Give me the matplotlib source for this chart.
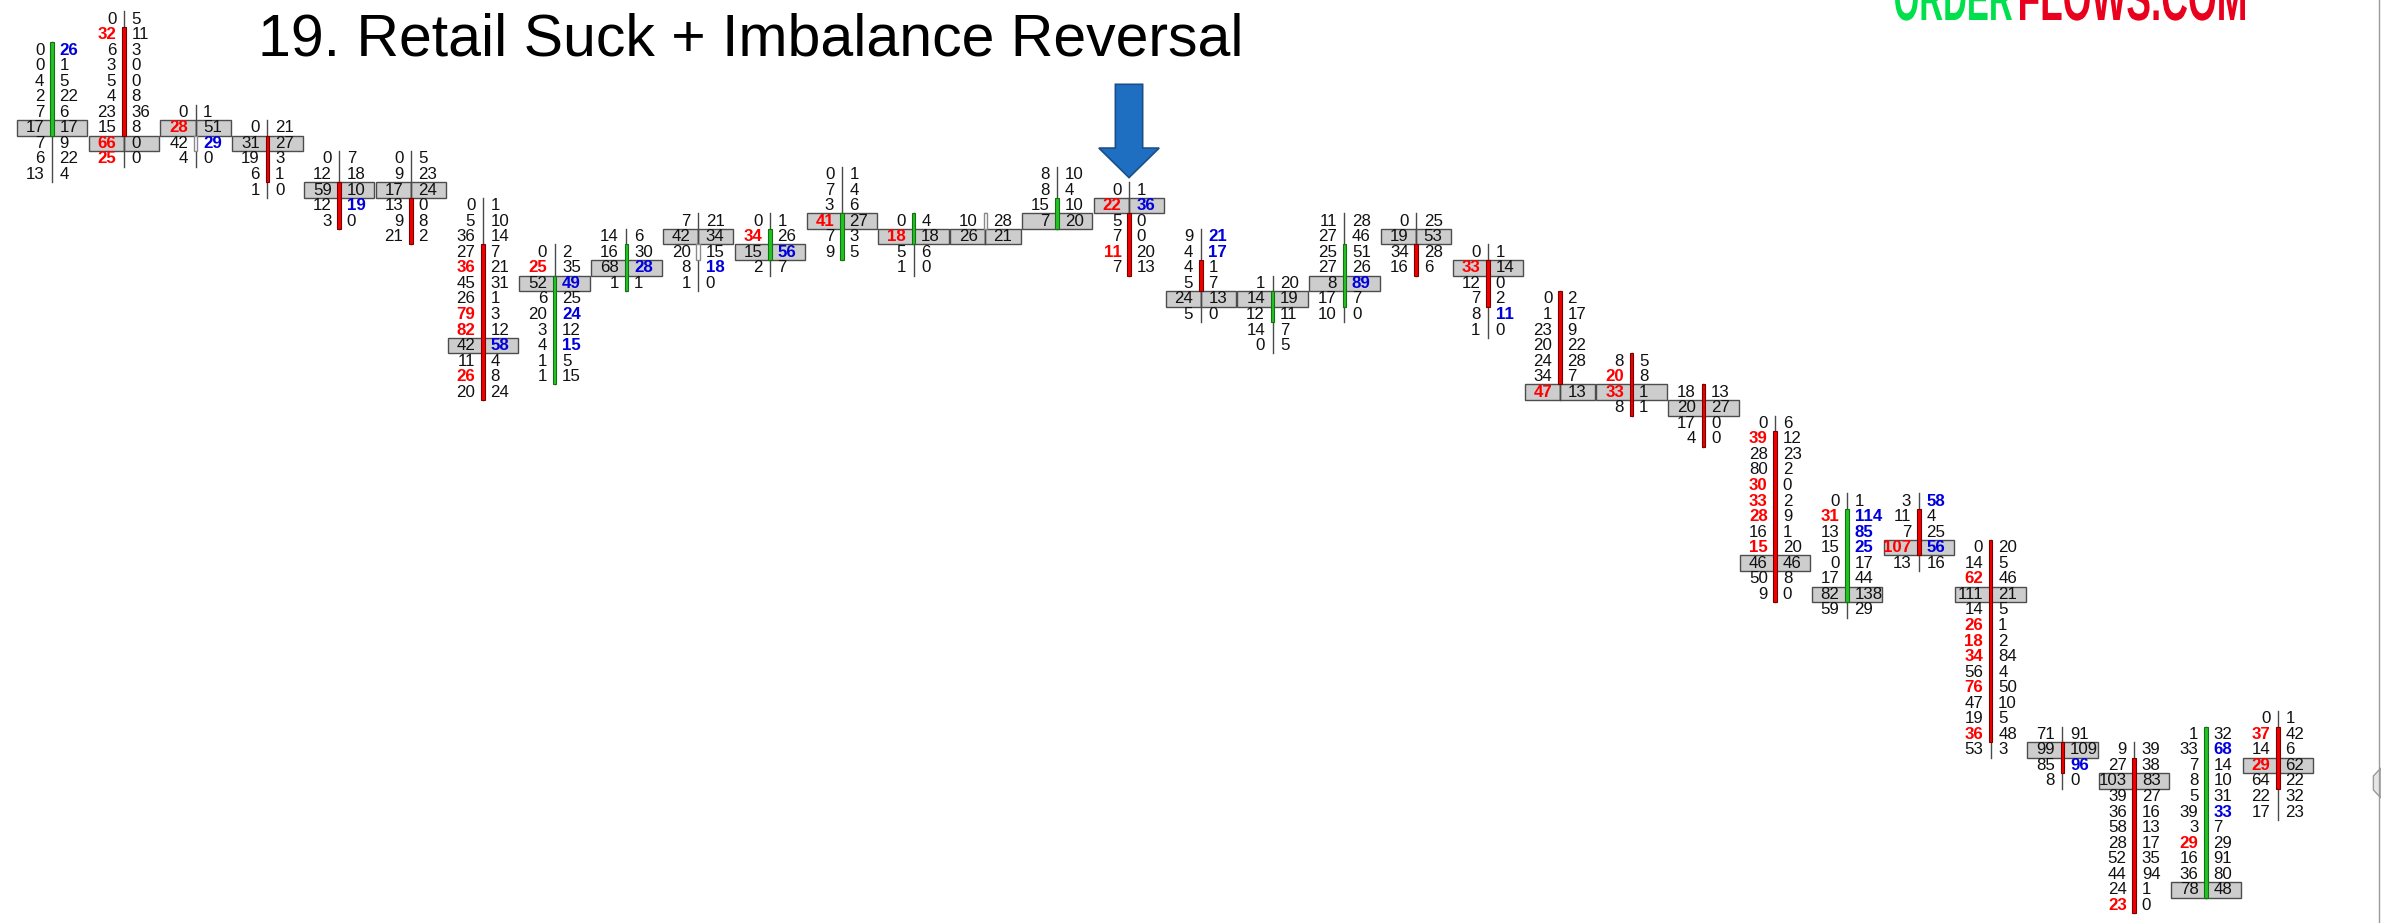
import matplotlib
matplotlib.use("Agg")
import matplotlib.pyplot as plt
from matplotlib.patches import Rectangle, FancyArrow, Polygon, PathPatch
from matplotlib.textpath import TextPath
from matplotlib.font_manager import FontProperties
from matplotlib.transforms import Affine2D

plt.rcParams['font.family'] = ['Liberation Sans', 'DejaVu Sans']

# footprint bars, price rows counted downward from the top of the chart
tops = [2, 0, 6, 7, 9, 9, 12, 15, 14, 13, 13, 10, 13, 13, 10, 11,
        14, 17, 13, 13, 15, 18, 22, 24, 26, 31, 31, 34, 46, 47, 46, 45]

bids = [
    [0, 0, 4, 2, 7, 17, 7, 6, 13],
    [0, 32, 6, 3, 5, 4, 23, 15, 66, 25],
    [0, 28, 42, 4],
    [0, 31, 19, 6, 1],
    [0, 12, 59, 12, 3],
    [0, 9, 17, 13, 9, 21],
    [0, 5, 36, 27, 36, 45, 26, 79, 82, 42, 11, 26, 20],
    [0, 25, 52, 6, 20, 3, 4, 1, 1],
    [14, 16, 68, 1],
    [7, 42, 20, 8, 1],
    [0, 34, 15, 2],
    [0, 7, 3, 41, 7, 9],
    [0, 18, 5, 1],
    [10, 26],
    [8, 8, 15, 7],
    [0, 22, 5, 7, 11, 7],
    [9, 4, 4, 5, 24, 5],
    [1, 14, 12, 14, 0],
    [11, 27, 25, 27, 8, 17, 10],
    [0, 19, 34, 16],
    [0, 33, 12, 7, 8, 1],
    [0, 1, 23, 20, 24, 34, 47],
    [8, 20, 33, 8],
    [18, 20, 17, 4],
    [0, 39, 28, 80, 30, 33, 28, 16, 15, 46, 50, 9],
    [0, 31, 13, 15, 0, 17, 82, 59],
    [3, 11, 7, 107, 13],
    [0, 14, 62, 111, 14, 26, 18, 34, 56, 76, 47, 19, 36, 53],
    [71, 99, 85, 8],
    [9, 27, 103, 39, 36, 58, 28, 52, 44, 24, 23],
    [1, 33, 7, 8, 5, 39, 3, 29, 16, 36, 78],
    [0, 37, 14, 29, 64, 22, 17],
]

asks = [
    [26, 1, 5, 22, 6, 17, 9, 22, 4],
    [5, 11, 3, 0, 0, 8, 36, 8, 0, 0],
    [1, 51, 29, 0],
    [21, 27, 3, 1, 0],
    [7, 18, 10, 19, 0],
    [5, 23, 24, 0, 8, 2],
    [1, 10, 14, 7, 21, 31, 1, 3, 12, 58, 4, 8, 24],
    [2, 35, 49, 25, 24, 12, 15, 5, 15],
    [6, 30, 28, 1],
    [21, 34, 15, 18, 0],
    [1, 26, 56, 7],
    [1, 4, 6, 27, 3, 5],
    [4, 18, 6, 0],
    [28, 21],
    [10, 4, 10, 20],
    [1, 36, 0, 0, 20, 13],
    [21, 17, 1, 7, 13, 0],
    [20, 19, 11, 7, 5],
    [28, 46, 51, 26, 89, 7, 0],
    [25, 53, 28, 6],
    [1, 14, 0, 2, 11, 0],
    [2, 17, 9, 22, 28, 7, 13],
    [5, 8, 1, 1],
    [13, 27, 0, 0],
    [6, 12, 23, 2, 0, 2, 9, 1, 20, 46, 8, 0],
    [1, 114, 85, 25, 17, 44, 138, 29],
    [58, 4, 25, 56, 16],
    [20, 5, 46, 21, 5, 1, 2, 84, 4, 50, 10, 5, 48, 3],
    [91, 109, 96, 0],
    [39, 38, 83, 27, 16, 13, 17, 35, 94, 1, 0],
    [32, 68, 14, 10, 31, 33, 7, 29, 91, 80, 48],
    [1, 42, 6, 62, 22, 32, 23],
]

poc_rows = [7, 8, 7, 8, 11, 11, 21, 17, 16, 14, 15, 13, 14, 14, 13, 12,
            18, 18, 17, 14, 16, 24, 24, 25, 35, 37, 34, 37, 47, 49, 56, 48]

body_rows = [(2, 7), (1, 7), (8, 8), (8, 10), (11, 13), (12, 14), (15, 24), (17, 23),
             (15, 17), (15, 15), (14, 15), (13, 15), (13, 14), (13, 13), (12, 13), (13, 16),
             (16, 17), (18, 19), (15, 18), (15, 16), (16, 18), (18, 23), (22, 25), (24, 27),
             (27, 37), (32, 37), (32, 34), (34, 46), (47, 48), (48, 57), (46, 56), (46, 49)]

bar_dir = ['up', 'down', 'doji', 'down', 'down', 'down', 'down', 'up',
           'up', 'doji', 'up', 'up', 'up', 'doji', 'up', 'down',
           'down', 'up', 'up', 'down', 'down', 'down', 'down', 'down',
           'down', 'up', 'down', 'down', 'down', 'down', 'up', 'down']

# imbalance rows (bid side red, ask side blue)
bid_imb = {1: [1, 8, 9], 2: [7], 6: [16, 19, 20, 23], 7: [16], 10: [14], 11: [13],
           12: [14], 15: [12, 15], 20: [16], 21: [24], 22: [23, 24],
           24: [27, 30, 31, 32, 34], 25: [32], 26: [34],
           27: [36, 39, 40, 41, 43, 46], 29: [57], 30: [53], 31: [46, 48]}
ask_imb = {0: [2], 2: [8], 4: [12], 6: [21], 7: [17, 19, 21], 8: [16], 9: [16],
           10: [15], 15: [12], 16: [14, 15], 18: [17], 20: [19],
           25: [32, 33, 34], 26: [31, 34], 28: [48], 30: [47, 51]}

title = "19. Retail Suck + Imbalance Reversal"
signal_bar = 15

W, H = 2381, 923
fig = plt.figure(figsize=(W / 100, H / 100), dpi=100)
ax = fig.add_axes([0, 0, 1, 1])
ax.set_xlim(-0.7242, 32.437)
ax.set_ylim(58.135, -1.222)
ax.axis('off')

half = 0.49
gap = 0.105
bw = 0.05

for c in range(len(tops)):
    first = tops[c]
    last = tops[c] + len(bids[c]) - 1
    ax.plot([c, c], [first - 0.5, last + 0.5], color='#4a4a4a', lw=1.0, zorder=2)

    p = poc_rows[c]
    for x0 in (c - half, c):
        ax.add_patch(Rectangle((x0, p - 0.5), half, 1, facecolor='#cdcdcd',
                               edgecolor='#4d4d4d', lw=1.0, zorder=1))

    b0, b1 = body_rows[c]
    if bar_dir[c] == 'doji':
        ax.add_patch(Rectangle((c - bw / 2, b0 - 0.5), bw, b1 - b0 + 1, facecolor='white',
                               edgecolor='#8a8a8a', lw=1.0, zorder=3))
    else:
        fc, ec = ('#22c422', '#147014') if bar_dir[c] == 'up' else ('#f20000', '#7a0000')
        ax.add_patch(Rectangle((c - bw / 2, b0 - 0.5), bw, b1 - b0 + 1, facecolor=fc,
                               edgecolor=ec, lw=0.8, zorder=3))

    for i in range(len(bids[c])):
        r = first + i
        red = r in bid_imb.get(c, [])
        blue = r in ask_imb.get(c, [])
        ax.text(c - gap, r, str(bids[c][i]), ha='right', va='center', fontsize=12.2,
                color='#ff0000' if red else '#111111',
                fontweight='bold' if red else 'normal', zorder=4)
        ax.text(c + gap, r, str(asks[c][i]), ha='left', va='center', fontsize=12.2,
                color='#0000dd' if blue else '#111111',
                fontweight='bold' if blue else 'normal', zorder=4)

# signal arrow above the reversal bar
ax.add_patch(FancyArrow(signal_bar, 4.2, 0, 6.0, width=0.38, head_width=0.84,
                        head_length=1.9, length_includes_head=True,
                        facecolor='#1e6fc2', edgecolor='#1b4e87', lw=1.2, zorder=5))

# right border + handle
ax.axvline(32.405, color='#9a9a9a', lw=1.0)
ax.add_patch(Polygon([(1.0, 1 - 768 / H), (0.9968, 1 - 776 / H), (0.9968, 1 - 790 / H),
                      (1.0, 1 - 798 / H)], closed=True, transform=ax.transAxes,
                     facecolor='#e6e6e6', edgecolor='#9a9a9a', lw=1.0))

fig.text(258 / W, 1 - 55 / H, title, fontsize=42.5, va='baseline', ha='left', color='#000000')

# logo, condensed bold letters cut by the top edge
fp = FontProperties(family='Liberation Sans', weight='bold')
cap_h = 46.0
for word, x_left, x_right, col in (("ORDER", 1895, 2012, '#00e04c'),
                                   ("FLOWS.COM", 2020, 2245, '#e8001c')):
    tp = TextPath((0, 0), word, size=100, prop=fp)
    ext = tp.get_extents()
    sx = (x_right - x_left) / (ext.x1 - ext.x0)
    sy = cap_h / 72.0
    tr = Affine2D().translate(-ext.x0, 0).scale(sx, sy).translate(x_left, H - 20)
    fig.patches.append(PathPatch(tr.transform_path(tp), facecolor=col, edgecolor='none',
                                 transform=None, figure=fig))

fig.savefig('out.png', dpi=100)
